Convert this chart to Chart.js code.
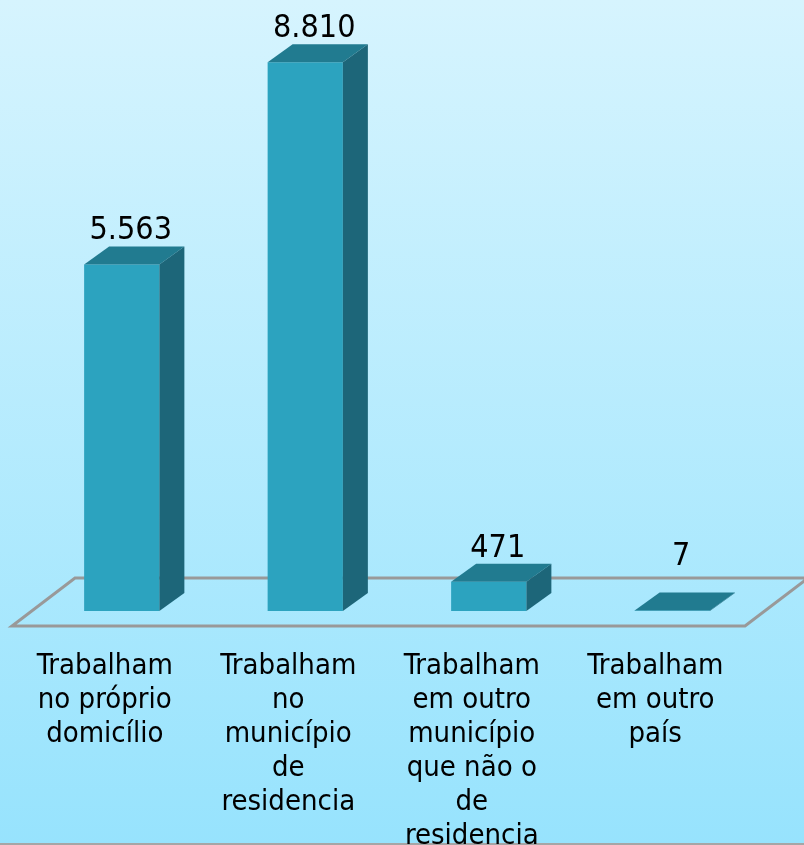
<!DOCTYPE html>
<html>
<head>
<meta charset="utf-8">
<script src="https://cdn.jsdelivr.net/npm/chart.js@4/dist/chart.umd.min.js"></script>
<style>
html,body{margin:0;padding:0;background:#fff;}
#wrap{width:804px;height:845px;position:relative;}
</style>
</head>
<body>
<div id="wrap"><canvas id="c" width="804" height="845"></canvas></div>
<script>
const categories = [
  ["Trabalham", "no próprio", "domicílio"],
  ["Trabalham", "no", "município", "de", "residencia"],
  ["Trabalham", "em outro", "município", "que não o", "de", "residencia"],
  ["Trabalham", "em outro", "país"]
];
const values = [5563, 8810, 471, 7];
const valueLabels = ["5.563", "8.810", "471", "7"];

const FRONT = '#2ca3bf', TOP = '#217b90', SIDE = '#1d6679';
const DX = 25, DY = -18;

const bg = {
  id: 'bg',
  beforeDraw(chart) {
    const {ctx, width, height} = chart;
    const g = ctx.createLinearGradient(0, 0, 0, height);
    g.addColorStop(0, '#d6f4fe');
    g.addColorStop(1, '#97e3fd');
    ctx.save();
    ctx.fillStyle = g;
    ctx.fillRect(0, 0, width, height);
    ctx.fillStyle = '#a6a6a6';
    ctx.fillRect(0, height - 2, width, 2);
    ctx.restore();
  }
};

const floor3d = {
  id: 'floor3d',
  beforeDatasetsDraw(chart) {
    const {ctx, chartArea} = chart;
    const y0 = chart.scales.y.getPixelForValue(0);
    const fy = y0 + 15, by = y0 - 33;
    const fl = chartArea.left - 18, fr = chartArea.right - 19;
    ctx.save();
    ctx.strokeStyle = '#999999';
    ctx.lineWidth = 3;
    ctx.lineJoin = 'miter';
    ctx.beginPath();
    ctx.moveTo(fl, fy);
    ctx.lineTo(fr, fy);
    ctx.lineTo(fr + 63, by);
    ctx.lineTo(fl + 63, by);
    ctx.closePath();
    ctx.stroke();
    ctx.restore();
  },
  afterDatasetsDraw(chart) {
    const {ctx} = chart;
    const meta = chart.getDatasetMeta(0);
    const yScale = chart.scales.y;
    const floorBack = yScale.getPixelForValue(0) - 33;
    ctx.save();
    meta.data.forEach((bar, i) => {
      const {x, y, base, width} = bar.getProps(['x', 'y', 'base', 'width'], true);
      const l = x - width / 2, r = x + width / 2;
      ctx.fillStyle = TOP;
      ctx.beginPath();
      ctx.moveTo(l, y);
      ctx.lineTo(r, y);
      ctx.lineTo(r + DX, y + DY);
      ctx.lineTo(l + DX, y + DY);
      ctx.closePath();
      ctx.fill();
      ctx.fillStyle = SIDE;
      ctx.beginPath();
      ctx.moveTo(r, y);
      ctx.lineTo(r + DX, y + DY);
      ctx.lineTo(r + DX, base + DY);
      ctx.lineTo(r, base);
      ctx.closePath();
      ctx.fill();
      ctx.fillStyle = '#000';
      ctx.font = '32px "DejaVu Sans Condensed", "DejaVu Sans", sans-serif';
      ctx.textAlign = 'center';
      ctx.textBaseline = 'alphabetic';
      const ly = Math.min(y + DY - 7, floorBack - 13);
      ctx.fillText(valueLabels[i], x + 9, ly);
    });
    ctx.restore();
  }
};

new Chart(document.getElementById('c'), {
  type: 'bar',
  data: {
    labels: categories,
    datasets: [{
      data: values,
      backgroundColor: FRONT,
      borderWidth: 0,
      barPercentage: 0.41,
      categoryPercentage: 1
    }]
  },
  options: {
    responsive: false,
    animation: false,
    layout: {padding: {left: 30, right: 40, top: 13, bottom: 0}},
    plugins: {legend: {display: false}, tooltip: {enabled: false}},
    scales: {
      x: {
        grid: {display: false, drawTicks: false},
        border: {display: false},
        ticks: {
          color: '#000',
          font: {family: '"DejaVu Sans Condensed", "DejaVu Sans", sans-serif', size: 29, lineHeight: '34px'},
          padding: 38,
          labelOffset: -17,
          maxRotation: 0,
          autoSkip: false
        },
        afterFit(scale) { scale.height = 234; }
      },
      y: {
        display: false,
        min: 0,
        max: 9600
      }
    }
  },
  plugins: [bg, floor3d]
});
</script>
</body>
</html>
